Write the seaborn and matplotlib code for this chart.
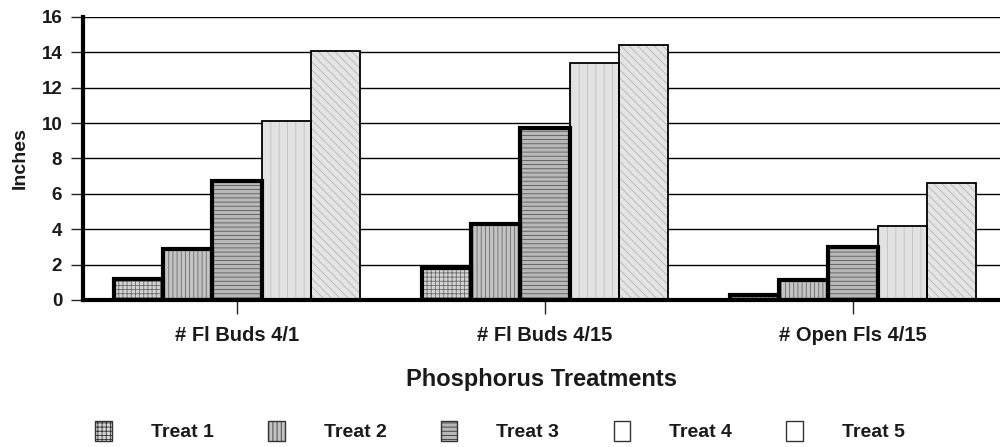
import matplotlib
matplotlib.use('Agg')
import matplotlib.pyplot as plt
from matplotlib.patches import Patch, Rectangle
import pandas as pd
import seaborn as sns

categories = ['# Fl Buds 4/1', '# Fl Buds 4/15', '# Open Fls 4/15']
treatments = ['Treat 1', 'Treat 2', 'Treat 3', 'Treat 4', 'Treat 5']
treat1 = [1.2, 1.8, 0.3]
treat2 = [2.9, 4.3, 1.1]
treat3 = [6.7, 9.7, 3.0]
treat4 = [10.1, 13.4, 4.2]
treat5 = [14.1, 14.4, 6.6]

# long form table for seaborn
rows = []
for name, vals in zip(treatments, [treat1, treat2, treat3, treat4, treat5]):
    for c, v in zip(categories, vals):
        rows.append({'cat': c, 'treat': name, 'val': v})
df = pd.DataFrame(rows)

# look of each treatment: face, hatch, hatch colour, edge width
faces = ['#d4d4d4', '#c4c4c4', '#b8b8b8', '#e2e2e2', '#e4e4e4']
hatches = ['++++', '||||', '----', '||', '\\\\\\\\']
hatch_cols = ['#6a6a6a', '#6a6a6a', '#5a5a5a', '#c0c0c0', '#b4b4b4']
edge_w = [3.0, 3.0, 3.0, 1.3, 1.3]

sns.set_style('white')
plt.rcParams['font.family'] = ['Liberation Sans', 'DejaVu Sans']
plt.rcParams['hatch.linewidth'] = 0.6

fig = plt.figure(figsize=(10, 4.47), dpi=100)
ax = fig.add_axes([0.083, 0.329, 0.917, 0.633])

sns.barplot(data=df, x='cat', y='val', hue='treat', order=categories,
            hue_order=treatments, width=0.8, legend=False, ax=ax,
            palette=faces, saturation=1)

n = len(categories)
for i, p in enumerate(ax.patches[:n * len(treatments)]):
    k = i // n
    p.set_facecolor(faces[k])
    p.set_hatch(hatches[k])
    p.set_edgecolor(hatch_cols[k])
    p.set_linewidth(0)
    ax.add_patch(Rectangle(p.get_xy(), p.get_width(), p.get_height(),
                           fill=False, edgecolor='black', linewidth=edge_w[k],
                           zorder=p.get_zorder() + 0.1))

ax.set_ylim(0, 16)
ax.set_yticks(range(0, 17, 2))
ax.set_xlim(-0.5, 2.477)
ax.yaxis.grid(True, color='black', linewidth=1.0)
ax.set_axisbelow(True)

for s in ['top', 'right']:
    ax.spines[s].set_visible(False)
ax.spines['left'].set_linewidth(3)
ax.spines['bottom'].set_linewidth(3)
ax.spines['left'].set_color('black')
ax.spines['bottom'].set_color('black')

ax.tick_params(axis='y', length=9, width=1, pad=6, labelsize=13.5, direction='out', left=True)
ax.tick_params(axis='x', length=10, width=1, pad=9, labelsize=14.5, direction='out', bottom=True)
for lab in ax.get_xticklabels() + ax.get_yticklabels():
    lab.set_fontweight('bold')
    lab.set_color('#1a1a1a')

ax.set_ylabel('Inches', fontsize=14, fontweight='bold', labelpad=9, color='#1a1a1a')
ax.set_xlabel('Phosphorus Treatments', fontsize=17, fontweight='bold', labelpad=16, color='#1a1a1a')

handles = [Patch(facecolor=faces[k] if k < 3 else 'white', hatch=hatches[k] if k < 3 else None,
                 edgecolor='#333333', linewidth=1.0) for k in range(len(treatments))]
leg = fig.legend(handles, treatments, loc='center', bbox_to_anchor=(0.5, 0.035), ncol=5,
                 frameon=False, handlelength=0.85, handleheight=1.15, handletextpad=2.0,
                 columnspacing=2.8, prop={'weight': 'bold', 'size': 14})
for t in leg.get_texts():
    t.set_color('#1a1a1a')

fig.savefig('out.png', dpi=100)
